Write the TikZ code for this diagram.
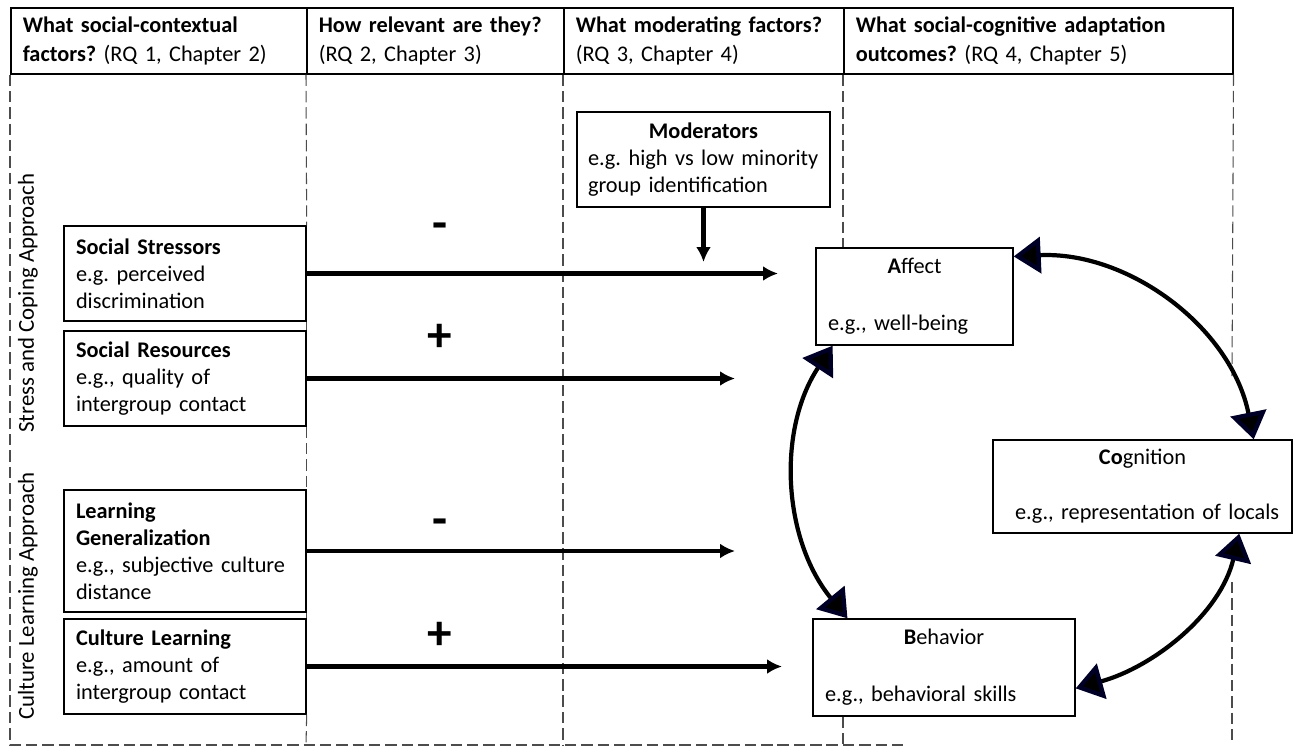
\documentclass[tikz,border=0pt]{standalone}
\usepackage{fontspec}
\setmainfont{Carlito}
\usetikzlibrary{arrows.meta}
\tikzset{
  flowarrow/.style={-{Latex[length=0.3cm, width=0.3cm]}, line width=2.7pt},
  cyclearrow/.style={{Triangle[length=0.54cm, width=0.72cm, color=blue!15!black, fill=black]}-{Triangle[length=0.54cm, width=0.72cm, color=blue!15!black, fill=black]}, line width=2.4pt},
  colline/.style={draw=black!70, line width=0.6pt, dash pattern=on 6.5pt off 2.8pt},
  headcell/.style={draw, line width=0.9pt, anchor=north west, align=left, minimum height=1.32cm, inner xsep=0.24cm, inner ysep=0pt},
  factorbox/.style={draw, line width=0.8pt, fill=white, align=left, text width=4.36cm, inner xsep=0.24cm, minimum height=1.9cm},
  outbox/.style={draw, line width=0.8pt, fill=white, align=left, inner xsep=0.24cm, inner ysep=0pt},
  signlbl/.style={font=\fontsize{28}{30}\selectfont\bfseries},
  approach/.style={rotate=90, font=\fontsize{13}{15}\selectfont}
}

\begin{document}
\frenchspacing
\begin{tikzpicture}[x=0.02cm, y=-0.02cm, every node/.style={font=\fontsize{12.7}{15.3}\selectfont}]
  \useasboundingbox (0,0) rectangle (1294,747);

  \node[headcell, text width=5.44cm] (h1) at (10,7) {\textbf{What social-contextual}\\[1.5pt]\textbf{factors?} (RQ 1, Chapter 2)};
  \node[headcell, text width=4.66cm] (h2) at (306,7) {\textbf{How relevant are they?}\\[1.5pt](RQ 2, Chapter 3)};
  \node[headcell, text width=5.12cm] (h3) at (563,7) {\textbf{What moderating factors?}\\[1.5pt](RQ 3, Chapter 4)};
  \node[headcell, text width=7.30cm] (h4) at (843,7) {\textbf{What social-cognitive adaptation}\\[1.5pt]\textbf{outcomes?} (RQ 4, Chapter 5)};

  \node[approach] (stresslbl) at (28,303) {Stress and Coping Approach};
  \node[approach] (culturelbl) at (28,596) {Culture Learning Approach};

  \node[factorbox] (stress) at (185,273.5) {\textbf{Social Stressors}\\e.g. perceived\\discrimination};
  \node[factorbox] (resource) at (185,378.5) {\textbf{Social Resources}\\e.g., quality of\\intergroup contact};
  \node[factorbox, minimum height=2.44cm] (general) at (185,551) {\textbf{Learning}\\\textbf{Generalization}\\e.g., subjective culture\\distance};
  \node[factorbox] (learning) at (185,666.5) {\textbf{Culture Learning}\\e.g., amount of\\intergroup contact};

  \node[factorbox, text width=4.62cm, inner xsep=0.22cm] (moder) at (703.5,159.5) {\makebox[\hsize][c]{\textbf{Moderators}}\\e.g. high vs low minority\\group identification};

  \node[outbox, text width=3.46cm, minimum height=1.94cm] (affect) at (914.5,296.5) {\makebox[\hsize][c]{\textbf{A}ffect}\\[17pt]e.g., well-being};
  \node[outbox, text width=5.50cm, minimum height=1.86cm] (cog) at (1142.5,486.5) {\makebox[\hsize][c]{\textbf{Co}gnition}\\[16pt]\hspace*{0.2cm}e.g., representation of locals};
  \node[outbox, text width=4.76cm, minimum height=1.94cm] (beh) at (944,667.5) {\makebox[\hsize][c]{\textbf{B}ehavior}\\[17pt]e.g., behavioral skills};

  \draw[colline] (h1.south west) -- (10,745) -- (903,745);
  \draw[colline] (h2.south west) -- (stress.north east);
  \draw[colline] (stress.south east) -- (resource.north east);
  \draw[colline] (resource.south east) -- (general.north east);
  \draw[colline] (general.south east) -- (learning.north east);
  \draw[colline] (learning.south east) -- (306,745);
  \draw[colline] (h3.south west) -- (563,745);
  \draw[colline] (h4.south west) -- (affect.north west -| h4.south west);
  \draw[colline] (beh.south west -| h4.south west) -- (843,745);
  \draw[colline] (h4.south east) -- (1232,376);
  \draw[colline] (1232,582) -- (1232,745);

  \node[signlbl] (sign1) at (440,231) {-};
  \node[signlbl] (sign2) at (440,338) {+};
  \node[signlbl] (sign3) at (440,527) {-};
  \node[signlbl] (sign4) at (440,636) {+};

  \coordinate (stressend) at (778,273.5);
  \coordinate (resourceend) at (735,378.5);
  \coordinate (generalend) at (735,551);
  \coordinate (learningend) at (782,666.5);
  \coordinate (moderend) at (703.5,262);

  \draw[flowarrow] (stress) -- (stressend);
  \draw[flowarrow] (resource) -- (resourceend);
  \draw[flowarrow] (general) -- (generalend);
  \draw[flowarrow] (learning) -- (learningend);
  \draw[flowarrow] (moder) -- (moderend);

  \draw[cyclearrow] (affect.22) .. controls (1128,251) and (1231,327) .. (cog.23.4);
  \draw[cyclearrow] (affect.211.4) .. controls (776.6,430.3) and (783.1,539.9) .. (beh.153.4);
  \draw[cyclearrow] (cog.334.7) .. controls (1220.5,613.7) and (1153.8,666.9) .. (beh.351.5);
\end{tikzpicture}
\end{document}
